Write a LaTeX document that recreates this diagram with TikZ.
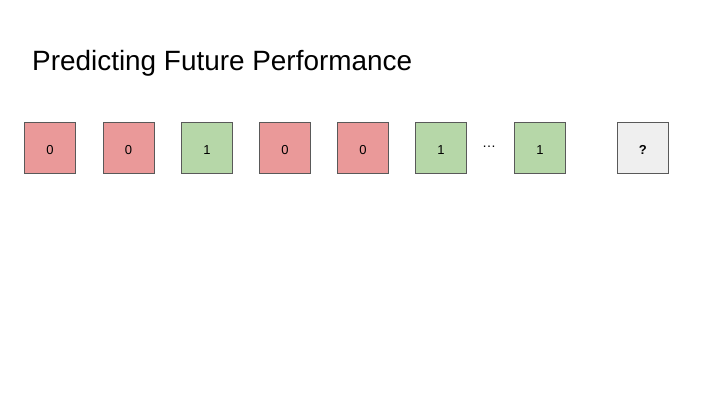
\documentclass[tikz,border=0pt]{standalone}
\usepackage{fontspec}
\setmainfont{Liberation Sans}
\definecolor{redfill}{HTML}{EA9999}
\definecolor{greenfill}{HTML}{B6D7A8}
\definecolor{grayfill}{HTML}{EFEFEF}
\definecolor{edge}{HTML}{595959}
\tikzset{
  cell/.style={draw=edge, line width=0.8pt, minimum width=51pt, minimum height=51pt, inner sep=0pt, font=\fontsize{13}{15}\selectfont, anchor=north west, text height=12.5pt, text depth=0pt},
  redcell/.style={cell, fill=redfill},
  greencell/.style={cell, fill=greenfill},
  graycell/.style={cell, fill=grayfill},
}
\begin{document}
\begin{tikzpicture}[x=1pt,y=-1pt]
\useasboundingbox[fill=white] (0,0) rectangle (720,405);
\node[anchor=base west, inner sep=0pt, font=\fontsize{27.9}{32}\selectfont] (title) at (32,70.5) {Predicting Future Performance};
\node[redcell] (c1) at (24,122) {0};
\node[redcell] (c2) at (102.5,122) {0};
\node[greencell] (c3) at (181,122) {1};
\node[redcell] (c4) at (259,122) {0};
\node[redcell] (c5) at (337,122) {0};
\node[greencell] (c6) at (415,122) {1};
\node[font=\fontsize{14}{16}\selectfont, inner sep=0pt] (dots) at (489,147) {\dots};
\node[greencell] (c7) at (514,122) {1};
\node[graycell, font=\fontsize{13}{15}\selectfont\bfseries] (q) at (617,122) {?};
\end{tikzpicture}
\end{document}
